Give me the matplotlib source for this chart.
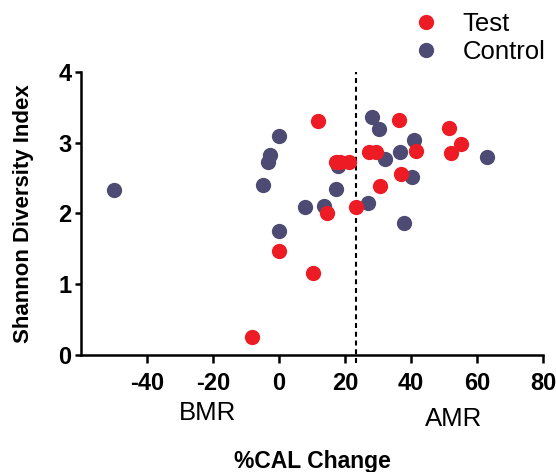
import matplotlib
matplotlib.use("Agg")
import matplotlib.pyplot as plt
from matplotlib.lines import Line2D

plt.rcParams['font.family'] = ['Liberation Sans', 'DejaVu Sans']
plt.rcParams['axes.unicode_minus'] = False

# Data
test_x = [0.0, -8.3, 10.2, 11.9, 14.5, 17.2, 18.5, 21.2, 23.3, 27.3, 29.3, 30.6,
          36.2, 37.0, 41.5, 51.5, 52.0, 55.1]
test_y = [1.47, 0.26, 1.16, 3.31, 2.01, 2.72, 2.73, 2.73, 2.09, 2.86, 2.87, 2.39,
          3.32, 2.55, 2.88, 3.20, 2.85, 2.98]
control_x = [-49.8, 0.1, -2.6, -3.4, -4.9, 0.1, 7.9, 13.7, 17.4, 17.9, 27.0, 28.3,
             30.2, 32.0, 36.5, 37.7, 40.2, 40.9, 62.9]
control_y = [2.33, 3.09, 2.83, 2.73, 2.40, 1.75, 2.09, 2.11, 2.35, 2.67, 2.15, 3.36,
             3.19, 2.77, 2.87, 1.87, 2.51, 3.03, 2.79]
threshold = 23.2
x_ticks = [-40, -20, 0, 20, 40, 60, 80]
y_ticks = [0, 1, 2, 3, 4]
region_labels = ['BMR', 'AMR']
region_x = [-21.5, 52.9]
series_names = ['Test', 'Control']

RED = '#ED1C24'
NAVY = '#4D4B73'

W, H = 556, 472
fig = plt.figure(figsize=(W / 100, H / 100), dpi=100)
ax = fig.add_axes([80.7 / W, 1 - 355 / H, (543.3 - 80.7) / W, (355 - 71.7) / H])

ms = 11
ax.plot(control_x, control_y, 'o', color=NAVY, ms=ms, mec='none', zorder=3)
ax.plot(test_x, test_y, 'o', color=RED, ms=ms, mec='none', zorder=4)

ax.plot([threshold, threshold], [-0.113, 4.0], color='black', lw=1.5,
        dashes=(2.4, 1.8), clip_on=False, zorder=2)

ax.set_xlim(-60, 80)
ax.set_ylim(0, 4)
ax.set_xticks(x_ticks)
ax.set_yticks(y_ticks)
for s in ['top', 'right']:
    ax.spines[s].set_visible(False)
for s in ['left', 'bottom']:
    ax.spines[s].set_linewidth(1.8)
ax.tick_params(axis='x', length=6, width=1.8, labelsize=17, pad=6)
ax.tick_params(axis='y', length=4.5, width=1.8, labelsize=17, pad=2)
for lab in ax.get_xticklabels() + ax.get_yticklabels():
    lab.set_fontweight('bold')

ax.set_xlabel('%CAL Change', fontsize=16.5, fontweight='bold')
ax.xaxis.set_label_coords(0.5, -0.3766)
ax.xaxis.label.set_va('center')
ax.set_ylabel('Shannon Diversity Index', fontsize=16, fontweight='bold')
ax.yaxis.set_label_coords(-0.124, 0.5)
ax.yaxis.label.set_va('center')

for lbl, xv, yv in zip(region_labels, region_x, [-0.204, -0.226]):
    ax.text(xv, yv, lbl, transform=ax.get_xaxis_transform(), ha='center',
            va='center', fontsize=18.5)

handles = [Line2D([], [], marker='o', ls='none', color=RED, ms=ms, mec='none'),
           Line2D([], [], marker='o', ls='none', color=NAVY, ms=ms, mec='none')]
leg = fig.legend(handles, series_names, loc='upper left',
                 bbox_to_anchor=(405 / W, 1 - 7 / H), frameon=False,
                 fontsize=18.5, handletextpad=0.85, labelspacing=0.15,
                 handlelength=1.2, borderpad=0.2, borderaxespad=0)

fig.savefig('out.png', dpi=100)
